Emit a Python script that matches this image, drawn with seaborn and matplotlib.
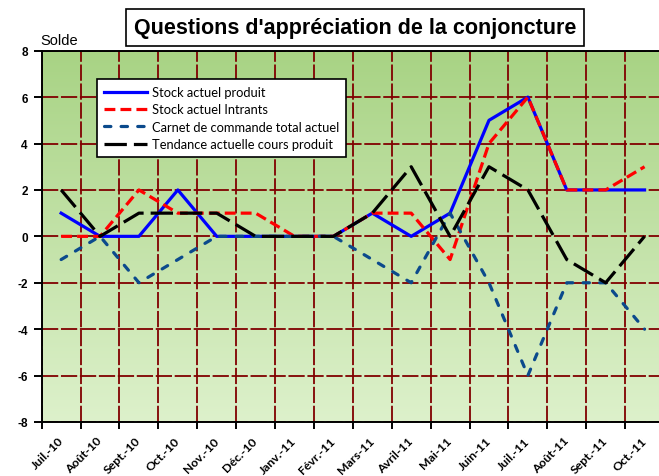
import numpy as np
import pandas as pd
import matplotlib
matplotlib.use("Agg")
import matplotlib.pyplot as plt
import seaborn as sns
from matplotlib.colors import LinearSegmentedColormap

# Data
mois = ["Juil.-10", "Août-10", "Sept.-10", "Oct.-10", "Nov.-10", "Déc.-10",
        "Janv.-11", "Févr.-11", "Mars-11", "Avril-11", "Mai-11", "Juin-11",
        "Juil.-11", "Août-11", "Sept.-11", "Oct.-11"]
stock_produit = [1, 0, 0, 2, 0, 0, 0, 0, 1, 0, 1, 5, 6, 2, 2, 2]
stock_intrants = [0, 0, 2, 1, 1, 1, 0, 0, 1, 1, -1, 4, 6, 2, 2, 3]
carnet_commande = [-1, 0, -2, -1, 0, 0, 0, 0, -1, -2, 1, -2, -6, -2, -2, -4]
tendance_cours = [2, 0, 1, 1, 1, 0, 0, 0, 1, 3, 0, 3, 2, -1, -2, 0]

series = ["Stock actuel produit", "Stock actuel Intrants",
          "Carnet de commande total actuel", "Tendance actuelle cours produit"]
y_ticks = [-8, -6, -4, -2, 0, 2, 4, 6, 8]

wide = pd.DataFrame({
    "pos": np.arange(len(mois)),
    series[0]: stock_produit,
    series[1]: stock_intrants,
    series[2]: carnet_commande,
    series[3]: tendance_cours,
})
long = wide.melt(id_vars="pos", var_name="serie", value_name="solde")

palette = {series[0]: "#0000ff", series[1]: "#ff0000",
           series[2]: "#0b4a8c", series[3]: "#000000"}
dashes = {series[0]: "", series[1]: (3.4, 1.6),
          series[2]: (2.0, 3.2), series[3]: (7.0, 2.2)}

fig = plt.figure(figsize=(6.59, 4.77), dpi=100)
ax = fig.add_axes([41.7 / 659, 54 / 477, 622.3 / 659, 371.3 / 477])

# gradient background of the plot area
grad = LinearSegmentedColormap.from_list("bg", ["#a8d384", "#ddf1cb"])
ax.imshow(np.linspace(0, 1, 256).reshape(-1, 1), cmap=grad, aspect="auto",
          extent=[0, 1, 0, 1], transform=ax.transAxes, zorder=0)

sns.lineplot(data=long, x="pos", y="solde", hue="serie", style="serie",
             palette=palette, dashes=dashes, linewidth=2.3, legend=False,
             sort=False, ax=ax)
lines = ax.get_lines()[:4]
lines[2].set_dash_capstyle("round")

ax.set_xlim(-0.5, 15.5)
ax.set_ylim(-8, 8)
ax.set_xlabel("")
ax.set_ylabel("")

# gridlines at category boundaries, labels at the centres
ax.set_xticks(np.arange(-0.5, 16, 1))
ax.set_xticklabels([])
ax.set_xticks(np.arange(len(mois)), minor=True)
ax.set_xticklabels(mois, minor=True, rotation=45, ha="right", va="center",
                   rotation_mode="anchor", fontsize=8.8, fontweight="bold",
                   family="Lato")
ax.tick_params(axis="x", which="minor", length=0, pad=12)
ax.tick_params(axis="x", which="major", length=5, width=1.4, direction="out")
ax.set_yticks(y_ticks)
ax.set_yticklabels([str(v) for v in y_ticks], fontsize=8.5, fontweight="bold",
                   family="Liberation Sans")
ax.tick_params(axis="y", length=6, width=1.4, direction="out", pad=4)

ax.set_axisbelow(True)
ax.grid(True, which="major", color="#800000", linewidth=1.3,
        linestyle=(0, (9, 1.5)))

for side in ["left", "bottom", "top", "right"]:
    ax.spines[side].set_color("black")
    ax.spines[side].set_linewidth(1.4)

leg = ax.legend(lines, series, loc="upper left",
                bbox_to_anchor=(0.0889, 0.924), borderaxespad=0,
                prop={"family": "Lato", "size": 9.3}, handlelength=3.3,
                handletextpad=0.4, labelspacing=0.42, borderpad=0.55,
                fancybox=False, framealpha=1, edgecolor="black")
leg.get_frame().set_linewidth(1.2)

fig.text(59 / 659, 1 - 41 / 477, "Solde", ha="center", va="center",
         fontsize=10.5, family="Liberation Sans")
fig.text(355 / 659, 1 - 28.5 / 477, "Questions d'appréciation de la conjoncture",
         ha="center", va="center", fontsize=15.5, fontweight="bold",
         family="Liberation Sans",
         bbox=dict(boxstyle="square,pad=0.38", facecolor="white",
                   edgecolor="black", linewidth=1.2))

fig.savefig("out.png", dpi=100)
